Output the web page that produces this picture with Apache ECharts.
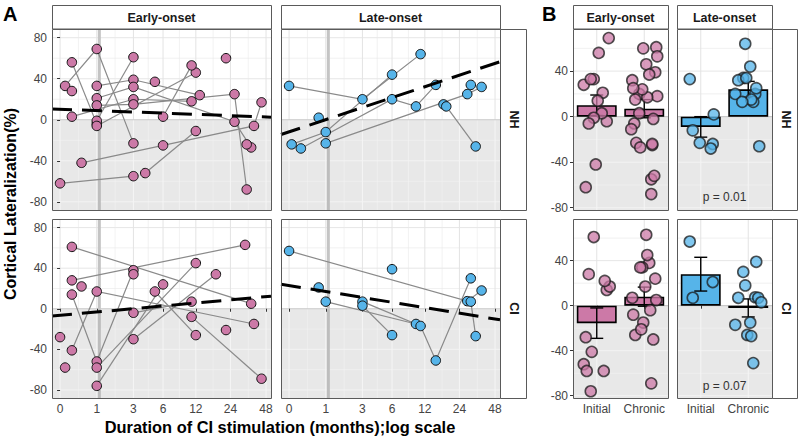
<!DOCTYPE html>
<html><head><meta charset="utf-8">
<script src="https://cdn.jsdelivr.net/npm/echarts@6/dist/echarts.min.js"></script>
<style>html,body{margin:0;padding:0;background:#fff}#c{width:799px;height:438px}</style>
</head><body><div id="c"></div>
<script>
// ---------------- DATA ----------------
const xTickMonths = [0, 1, 3, 6, 12, 24, 48];
const yTicksA = [-80, -40, 0, 40, 80];
const yTicksB = [-80, -40, 0, 40];
const groups = ['Early-onset', 'Late-onset'];
const rowNames = ['NH', 'CI'];
const barCats = ['Initial', 'Chronic'];

// Panel A: each subject is a path of [months, lateralization %]
const earlyNH = [
  [[0, -62], [3, -55]],
  [[0.1, 33], [1, 69], [3, -23]],
  [[0.25, 56], [1, -4]],
  [[0.25, 28]],
  [[0.25, 3], [3, 20], [11, 18]],
  [[0.5, -42], [6, -25], [38, -6], [44, 17]],
  [[1, 33], [3, 39], [13, 24]],
  [[1, 21], [3, 32], [26, -2], [36, -27]],
  [[1, 14], [3, 15], [26, 25], [33, -68]],
  [[1, -1], [3, 61]],
  [[1, -6], [12, 46]],
  [[4, -52], [12, -11]],
  [[5, 37]],
  [[6, 3], [11, 53]],
  [[22, 60]],
  [[33, -24]]
];
const lateNH = [
  [[0, 33], [3, 20], [11, 64]],
  [[0.05, -24], [1, -12], [6, 44]],
  [[0.25, -28], [6, 20], [10, 13], [15, 34]],
  [[0.75, 2]],
  [[1, -23], [28, 25], [37, 32]],
  [[17.5, 15]],
  [[18.5, 13], [33, -26]],
  [[30, 34]]
];
const earlyCI = [
  [[0, -28]],
  [[0.1, -58]],
  [[0.25, 61], [36, 5]],
  [[0.25, 28], [32, 63]],
  [[0.25, 14], [1, -52], [3, 38]],
  [[0.25, -41], [1, 17], [38, -15]],
  [[0.5, 22]],
  [[1, -58], [12, 45]],
  [[1, -76], [6, 24]],
  [[3, 34]],
  [[3, -4], [11, 7]],
  [[3, -30], [18, 34]],
  [[5, 17], [12, -26]],
  [[11, -8], [44, -69]],
  [[22, -21]]
];
const lateCI = [
  [[0, 57], [28, 7.5], [37, 18]],
  [[0.75, 21]],
  [[1, 7], [10, -15]],
  [[3, 7], [11, -17], [15, -51], [30, 30]],
  [[3, 3], [6, -26]],
  [[6, 39]],
  [[30, 7], [33, -27]]
];
// fitted trend lines: value at 0 months and at 48 months
const fitEarlyNH = [10.2, 2.7];
const fitLateNH = [-11.8, 55];
const fitEarlyCI = [-6.5, 12];
const fitLateCI = [22.9, -10.1];

// Panel B: mean (bar) and error (SE) for Initial / Chronic
const barsEarlyNH = [10, 7];    const errEarlyNH = [9, 8];
const barsLateNH  = [-9, 24];   const errLateNH  = [9, 7];
const barsEarlyCI = [-15.5, 8]; const errEarlyCI = [13.5, 8.5];
const barsLateCI  = [28, -2];   const errLateCI  = [15, 8];
const initialMaxMonths = 2;     // observations before this are "Initial"
const pNH = 'p = 0.01';
const pCI = 'p = 0.07';

// ---------------- CHART ----------------
const FONT = '"Liberation Sans", Arial, Helvetica, sans-serif';
const PINK = '#CC79A7', BLUE = '#56B4E9';
const tx = m => Math.log2(m + 1);
const xTickT = xTickMonths.map(tx);
const AX = [-0.22, 5.75], AY = [-88, 88.5], BY = [-82, 77];

const panelsA = [
  {g: {left: 52, top: 29, width: 219, height: 181}, subj: earlyNH, color: PINK, fit: fitEarlyNH, bottom: false, left: true},
  {g: {left: 281, top: 29, width: 219, height: 181}, subj: lateNH, color: BLUE, fit: fitLateNH, bottom: false, left: false},
  {g: {left: 52, top: 219, width: 219, height: 179}, subj: earlyCI, color: PINK, fit: fitEarlyCI, bottom: true, left: true},
  {g: {left: 281, top: 219, width: 219, height: 179}, subj: lateCI, color: BLUE, fit: fitLateCI, bottom: true, left: false}
];
const panelsB = [
  {g: {left: 573, top: 29, width: 95, height: 181}, subj: earlyNH, color: PINK, bars: barsEarlyNH, err: errEarlyNH, bottom: false, left: true},
  {g: {left: 677, top: 29, width: 95, height: 181}, subj: lateNH, color: BLUE, bars: barsLateNH, err: errLateNH, bottom: false, left: false, p: pNH},
  {g: {left: 573, top: 219, width: 95, height: 179}, subj: earlyCI, color: PINK, bars: barsEarlyCI, err: errEarlyCI, bottom: true, left: true},
  {g: {left: 677, top: 219, width: 95, height: 179}, subj: lateCI, color: BLUE, bars: barsLateCI, err: errLateCI, bottom: true, left: false, p: pCI}
];

const grids = [], xAxes = [], yAxes = [], series = [];
const labelStyle = {color: '#444', fontSize: 12, fontFamily: FONT};
const tickStyle = {lineStyle: {color: '#333', width: 1}, length: 3};

function bgSeries(gi, opts) {
  return {
    type: 'custom', xAxisIndex: gi, yAxisIndex: gi, z: 0, silent: true, animation: false,
    data: [[opts.xref, 0]],
    renderItem(params, api) {
      const cs = params.coordSys;
      const L = cs.x, T = cs.y, R = cs.x + cs.width, B = cs.y + cs.height;
      const Y = v => api.coord([opts.xref, v])[1];
      const X = v => api.coord([v, 0])[0];
      const y0 = Y(0);
      const ch = [];
      ch.push({type: 'rect', shape: {x: L, y: T, width: R - L, height: B - T}, style: {fill: '#fff'}});
      ch.push({type: 'rect', shape: {x: L, y: y0, width: R - L, height: B - y0}, style: {fill: '#e8e8e8'}});
      const seg = (x1, y1, x2, y2, c, w) => ch.push({type: 'line', shape: {x1, y1, x2, y2}, style: {stroke: c, lineWidth: w}});
      const vline = (x, w, cUp, cDn) => { if (x > L && x < R) { seg(x, T, x, y0, cUp, w); seg(x, y0, x, B, cDn, w); } };
      const hline = (v, w) => { const y = Y(v); if (y > T && y < B) seg(L, y, R, y, v > 0 ? '#e6e6e6' : '#f3f3f3', w); };
      opts.yMinor.forEach(v => hline(v, 0.6));
      opts.yMajor.forEach(v => { if (v !== 0) hline(v, 1); });
      opts.xMinor.forEach(v => vline(X(v), 0.6, '#e9e9e9', '#f3f3f3'));
      opts.xMajor.forEach(v => vline(X(v), 1, '#e3e3e3', '#f5f5f5'));
      if (opts.vref != null) vline(X(opts.vref), 3, '#c4c4c4', '#bdbdbd');
      seg(L, y0, R, y0, '#c9c9c9', 1.2);
      return {type: 'group', children: ch};
    }
  };
}

function borderSeries(gi, xref) {
  return {
    type: 'custom', xAxisIndex: gi, yAxisIndex: gi, z: 10, silent: true, animation: false,
    data: [[xref, 0]],
    renderItem(params) {
      const cs = params.coordSys;
      return {type: 'rect', shape: {x: cs.x + 0.5, y: cs.y + 0.5, width: cs.width, height: cs.height},
        style: {fill: 'none', stroke: '#5a5a5a', lineWidth: 1}};
    }
  };
}

// ---- Panel A ----
panelsA.forEach((p, i) => {
  const gi = grids.length;
  grids.push(Object.assign({containLabel: false}, p.g));
  xAxes.push({gridIndex: gi, type: 'value', min: AX[0], max: AX[1],
    axisLine: {show: false}, splitLine: {show: false},
    axisTick: Object.assign({show: p.bottom, customValues: xTickT}, tickStyle),
    axisLabel: Object.assign({show: p.bottom, customValues: xTickT, margin: 5,
      formatter: v => { const k = xTickT.findIndex(t => Math.abs(t - v) < 1e-6); return k >= 0 ? String(xTickMonths[k]) : ''; }}, labelStyle)});
  yAxes.push({gridIndex: gi, type: 'value', min: AY[0], max: AY[1],
    axisLine: {show: false}, splitLine: {show: false},
    axisTick: Object.assign({show: p.left, customValues: yTicksA}, tickStyle),
    axisLabel: Object.assign({show: p.left, customValues: yTicksA, margin: 5}, labelStyle)});
  const xMinor = [];
  for (let k = 0; k < xTickT.length - 1; k++) xMinor.push((xTickT[k] + xTickT[k + 1]) / 2);
  series.push(bgSeries(gi, {xref: 0, yMajor: yTicksA, yMinor: [-60, -20, 20, 60],
    xMajor: xTickT, xMinor, vref: tx(1.1)}));
  series.push({type: 'lines', coordinateSystem: 'cartesian2d', xAxisIndex: gi, yAxisIndex: gi,
    polyline: true, z: 2, silent: true, animation: false,
    lineStyle: {color: '#8a8a8a', width: 1.2, opacity: 1},
    data: p.subj.filter(s => s.length > 1).map(s => ({coords: s.map(q => [tx(q[0]), q[1]])}))});
  series.push({type: 'scatter', xAxisIndex: gi, yAxisIndex: gi, z: 3, silent: true, animation: false,
    symbolSize: 9.5,
    itemStyle: {color: p.color, borderColor: '#111', borderWidth: 1, opacity: 1},
    data: p.subj.flat().map(q => [tx(q[0]), q[1]])});
  const slope = (p.fit[1] - p.fit[0]) / tx(48);
  series.push({type: 'line', xAxisIndex: gi, yAxisIndex: gi, z: 4, silent: true, animation: false,
    symbol: 'none', clip: true,
    lineStyle: {color: '#000', width: 3, type: [20, 10]},
    data: [[AX[0], p.fit[0] + slope * AX[0]], [AX[1], p.fit[0] + slope * AX[1]]]});
  series.push(borderSeries(gi, 0));
});

// ---- Panel B ----
const jitter = [-11, 7, -3, 12, -8, 2, 10, -13, 5, -5, 13, -1, 8, -10, 3, -6, 11, -2, 6, -12, 9, -4, 1, -9];
panelsB.forEach((p, i) => {
  const gi = grids.length;
  grids.push(Object.assign({containLabel: false}, p.g));
  xAxes.push({gridIndex: gi, type: 'category', data: barCats,
    axisLine: {show: false}, splitLine: {show: false},
    axisTick: Object.assign({show: p.bottom, alignWithLabel: true}, tickStyle),
    axisLabel: Object.assign({show: p.bottom, margin: 5, interval: 0}, labelStyle)});
  yAxes.push({gridIndex: gi, type: 'value', min: BY[0], max: BY[1],
    axisLine: {show: false}, splitLine: {show: false},
    axisTick: Object.assign({show: p.left, customValues: yTicksB}, tickStyle),
    axisLabel: Object.assign({show: p.left, customValues: yTicksB, margin: 5}, labelStyle)});
  series.push(bgSeries(gi, {xref: 0, yMajor: yTicksB, yMinor: [-60, -20, 20, 60],
    xMajor: [0, 1], xMinor: [], vref: null}));
  series.push({type: 'bar', xAxisIndex: gi, yAxisIndex: gi, z: 2, silent: true, animation: false,
    barWidth: '84%', data: p.bars,
    itemStyle: {color: p.color, borderColor: '#000', borderWidth: 1.6}});
  const errData = p.bars.map((m, k) => [k, m - p.err[k], m + p.err[k]]);
  series.push({type: 'custom', xAxisIndex: gi, yAxisIndex: gi, z: 3, silent: true, animation: false,
    data: errData,
    renderItem(params, api) {
      const lo = api.coord([api.value(0), api.value(1)]);
      const hi = api.coord([api.value(0), api.value(2)]);
      const hw = 6.5;
      const st = {stroke: '#000', lineWidth: 1.4};
      return {type: 'group', children: [
        {type: 'line', shape: {x1: lo[0], y1: lo[1], x2: hi[0], y2: hi[1]}, style: st},
        {type: 'line', shape: {x1: lo[0] - hw, y1: lo[1], x2: lo[0] + hw, y2: lo[1]}, style: st},
        {type: 'line', shape: {x1: hi[0] - hw, y1: hi[1], x2: hi[0] + hw, y2: hi[1]}, style: st}
      ]};
    }});
  const pts = [];
  let j = 0;
  p.subj.flat().forEach(q => {
    const cat = q[0] < initialMaxMonths ? 0 : 1;
    pts.push({value: [cat, q[1]], symbolOffset: [jitter[j % jitter.length], 0]});
    j++;
  });
  series.push({type: 'scatter', xAxisIndex: gi, yAxisIndex: gi, z: 4, silent: true, animation: false,
    symbolSize: 11,
    itemStyle: {color: p.color, opacity: 0.75, borderColor: '#1a1a1a', borderWidth: 1.6},
    data: pts});
  series.push(borderSeries(gi, 0));
});

// ---- strips, titles ----
const graphic = [];
const stripText = {fontFamily: FONT, fontSize: 12.5, fontWeight: 'bold', fill: '#1a1a1a'};
function topStrip(x, w, label) {
  graphic.push({type: 'rect', shape: {x: x + 0.5, y: 5.5, width: w, height: 23.5}, style: {fill: '#fff', stroke: '#5a5a5a', lineWidth: 1}, z: 20});
  graphic.push({type: 'text', x: x + w / 2, y: 17.5, style: Object.assign({text: label, align: 'center', verticalAlign: 'middle'}, stripText), z: 21});
}
function sideStrip(x, y, w, h, label) {
  graphic.push({type: 'rect', shape: {x: x + 0.5, y: y + 0.5, width: w, height: h}, style: {fill: '#fff', stroke: '#5a5a5a', lineWidth: 1}, z: 20});
  graphic.push({type: 'text', x: x + w / 2 + 1, y: y + h / 2, rotation: -Math.PI / 2,
    style: Object.assign({text: label, align: 'center', verticalAlign: 'middle'}, stripText), z: 21});
}
topStrip(52, 219, groups[0]);
topStrip(281, 219, groups[1]);
topStrip(573, 95, groups[0]);
topStrip(677, 95, groups[1]);
sideStrip(500, 29, 26, 181, rowNames[0]);
sideStrip(500, 219, 26, 179, rowNames[1]);
sideStrip(772, 29, 25, 181, rowNames[0]);
sideStrip(772, 219, 25, 179, rowNames[1]);
graphic.push({type: 'text', x: 3, y: 4, style: {text: 'A', fontFamily: FONT, fontSize: 20, fontWeight: 'bold', fill: '#000'}, z: 21});
graphic.push({type: 'text', x: 542, y: 4, style: {text: 'B', fontFamily: FONT, fontSize: 20, fontWeight: 'bold', fill: '#000'}, z: 21});
graphic.push({type: 'text', x: 10, y: 204, rotation: Math.PI / 2,
  style: {text: 'Cortical Lateralization(%)', align: 'center', verticalAlign: 'middle', fontFamily: FONT, fontSize: 16, fontWeight: 'bold', fill: '#000'}, z: 21});
graphic.push({type: 'text', x: 280, y: 427,
  style: {text: 'Duration of CI stimulation (months);log scale', align: 'center', verticalAlign: 'middle', fontFamily: FONT, fontSize: 16.4, fontWeight: 'bold', fill: '#000'}, z: 21});
graphic.push({type: 'text', x: 724.5, y: 197, style: {text: pNH, align: 'center', verticalAlign: 'middle', fontFamily: FONT, fontSize: 12, fill: '#333'}, z: 21});
graphic.push({type: 'text', x: 724.5, y: 386, style: {text: pCI, align: 'center', verticalAlign: 'middle', fontFamily: FONT, fontSize: 12, fill: '#333'}, z: 21});

const chart = echarts.init(document.getElementById('c'), null, {renderer: 'svg', width: 799, height: 438});
chart.setOption({
  animation: false,
  backgroundColor: '#fff',
  textStyle: {fontFamily: FONT},
  grid: grids, xAxis: xAxes, yAxis: yAxes, series, graphic
});
</script></body></html>
